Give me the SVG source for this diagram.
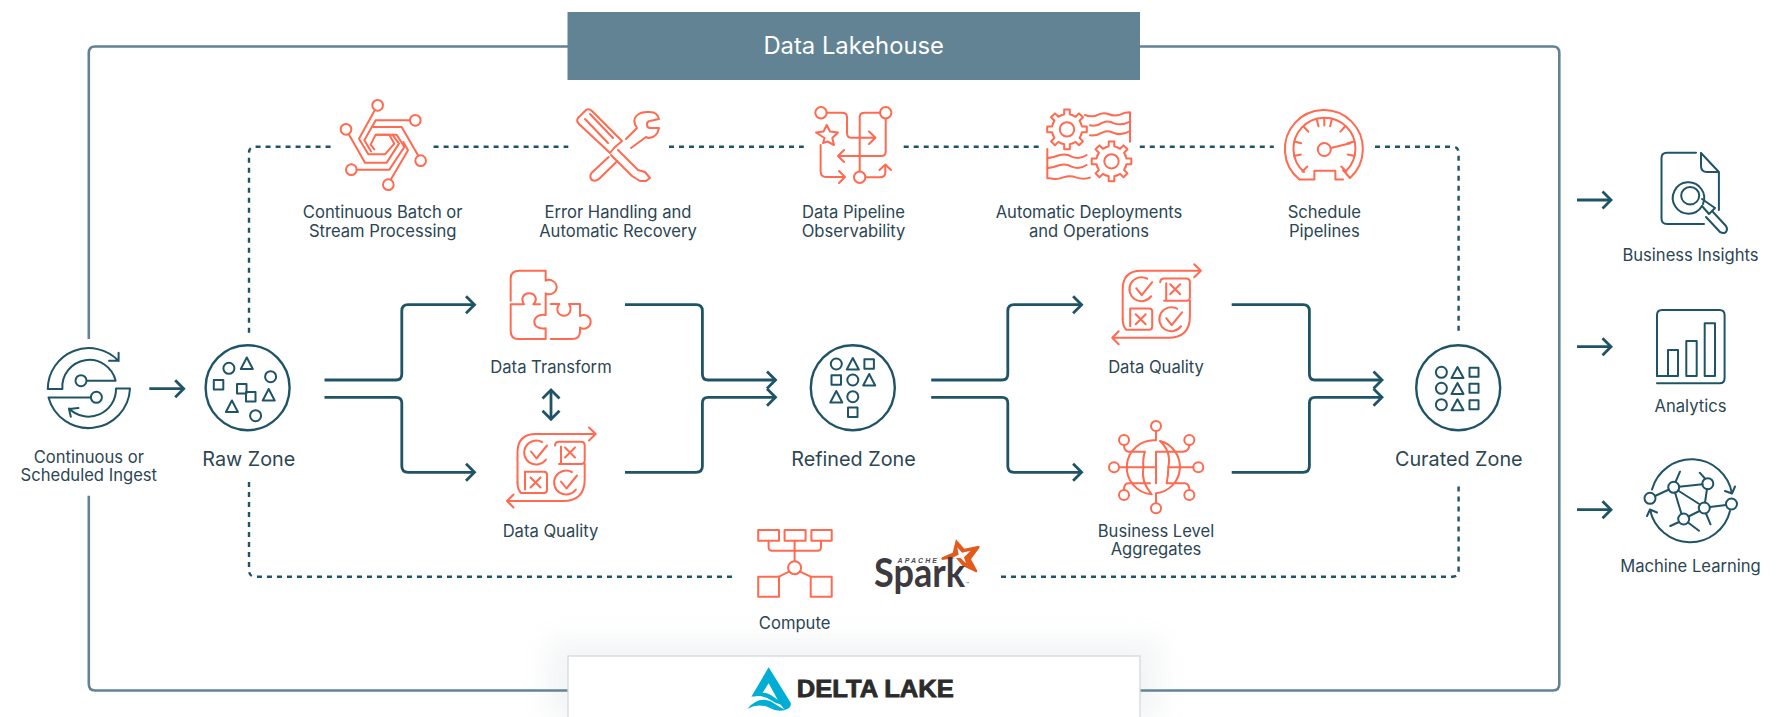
<svg xmlns="http://www.w3.org/2000/svg" xmlns:xlink="http://www.w3.org/1999/xlink" width="1785" height="717" viewBox="0 0 1785 717">
<style>
text{font-family:"Inter","Noto Sans","Liberation Sans",sans-serif;fill:#2c4653;text-anchor:middle}
.l{font-size:16.6px}
.z{font-size:19.8px;font-weight:400}
.c{fill:none;stroke:#ff6a50;stroke-width:2;stroke-linejoin:round;stroke-linecap:round}
.t{fill:none;stroke:#1f5466;stroke-width:2;stroke-linejoin:round;stroke-linecap:round}
.tt{fill:none;stroke:#1f5466;stroke-width:2.4;stroke-linejoin:round}
.flow{fill:none;stroke:#1f5466;stroke-width:2.8}
.dash{fill:none;stroke:#1f5466;stroke-width:2.4;stroke-dasharray:5 5}
</style>
<defs>
<marker id="ch" markerUnits="userSpaceOnUse" markerWidth="16" markerHeight="24" refX="13" refY="12" orient="auto-start-reverse" viewBox="0 0 16 24">
<path d="M4.5 3.5 L13 12 L4.5 20.5" fill="none" stroke="#1f5466" stroke-width="2.8"/>
</marker>
<filter id="soft" x="-10%" y="-50%" width="120%" height="200%"><feGaussianBlur stdDeviation="14"/></filter>
<g id="gear"><circle r="18"/>
<g id="tooth"><path d="M35 -14.5 L37.4 -7 L49.5 -7 L49.5 7 L37.4 7 L35 14.5"/></g>
<use href="#tooth" transform="rotate(45)"/><use href="#tooth" transform="rotate(90)"/><use href="#tooth" transform="rotate(135)"/><use href="#tooth" transform="rotate(180)"/><use href="#tooth" transform="rotate(225)"/><use href="#tooth" transform="rotate(270)"/><use href="#tooth" transform="rotate(315)"/>
</g>
<g id="dq">
<path class="c" d="M-33.5 15 V-15 Q-33.5 -33.5 -15 -33.5 H44.7 M38 -40 L44.7 -33.5 L38 -27"/>
<path class="c" d="M33.7 -3.5 V12 Q33.7 33.5 12 33.5 H-44 M-37.5 27 L-44 33.5 L-37.5 40"/>
<path class="c" d="M-33.5 15 Q-33.5 22 -30 25.5 H-7 Q-4 25.5 -4 22.5 V7 Q-4 4.2 -7 4.2 H-26 V22"/>
<path class="c" d="M-20.5 10 L-10.5 20 M-10.5 10 L-20.5 20"/>
<path class="c" d="M-5 -8 A12 12 0 1 1 -9 -25.5 M-20 -16 L-14.5 -9 L-4 -22"/>
<path class="c" d="M4 -22 Q4 -25.8 8 -25.8 H30 Q33.7 -25.8 33.7 -22 V-7 Q33.7 -3.5 30 -3.5 H8 M10 -21 V-4"/>
<path class="c" d="M14 -20 L24 -10 M24 -20 L14 -10"/>
<path class="c" d="M24.9 22 A12 12 0 1 1 20.9 4.5 M10 14 L15.5 21 L26 8"/>
</g>
</defs>
<rect width="1785" height="717" fill="#fff"/>

<g id="lakehouse-frame">
<path d="M88.8 339 V53 Q88.8 46.5 95 46.5 H1553 Q1559.3 46.5 1559.3 53 V684 Q1559.3 690.5 1553 690.5 H95 Q88.8 690.5 88.8 684 V495.7" fill="none" stroke="#618394" stroke-width="2.6"/>
</g>
<g id="data-lakehouse">
<rect x="567.5" y="12" width="572.5" height="68" fill="#618394"/>
<text x="853.7" y="54" style="font-size:23.8px;fill:#fff">Data Lakehouse</text>
</g>
<g id="delta-lake">
<rect x="548" y="640" width="612" height="80" fill="#8a9aa2" opacity=".1" filter="url(#soft)"/>
<rect x="568" y="656" width="572" height="70" fill="#fff" stroke="#d3dade" stroke-width="1.3"/>
<g transform="translate(740,660) scale(.3333)" fill="#00add4">
<path d="M86 22 L152 128 Q156 143 134 150 L118 128 L86 70 L64 104 L34 110 Z"/>
<path d="M22 146 Q56 108 92 124 Q112 138 136 150 Q110 156 90 144 Q58 128 22 146 Z"/>
<path d="M38 110 Q70 86 100 110 Q112 120 124 124 L130 136 Q108 132 92 120 Q70 104 38 110 Z"/>
</g>
<text x="875.3" y="697.3" textLength="157" lengthAdjust="spacingAndGlyphs" style="font-family:'Liberation Sans',sans-serif;font-weight:700;font-size:24px;fill:#2b2b2b;stroke:#2b2b2b;stroke-width:.8">DELTA LAKE</text>
</g>

<g id="connectors">
<g id="dashed">
<path class="dash" d="M249 332.7 V153 Q249 146.7 255 146.7 H333"/>
<path class="dash" d="M433.6 146.7 H568.3"/>
<path class="dash" d="M669 146.7 H803.8"/>
<path class="dash" d="M903.7 146.7 H1039"/>
<path class="dash" d="M1139.8 146.7 H1273.8"/>
<path class="dash" d="M1375 146.7 H1452 Q1458.6 146.7 1458.6 153 V332.7"/>
<path class="dash" d="M249 482 V570 Q249 576.7 255 576.7 H736.8"/>
<path class="dash" d="M1001 576.7 H1452 Q1458.6 576.7 1458.6 570 V484"/>
</g>
<g id="flows">
<path class="flow" marker-end="url(#ch)" d="M149.3 388.7 H183.7"/>
<path class="flow" marker-end="url(#ch)" d="M324.5 380 H396 Q401.8 380 401.8 374 V311 Q401.8 304.7 408 304.7 H474.5"/>
<path class="flow" marker-end="url(#ch)" d="M324.5 397.3 H396 Q401.8 397.3 401.8 403 V466 Q401.8 472.3 408 472.3 H474.5"/>
<path class="flow" marker-end="url(#ch)" d="M625 304.7 H696 Q702.4 304.7 702.4 311 V374 Q702.4 380 708 380 H775.5"/>
<path class="flow" marker-end="url(#ch)" d="M625 472.3 H696 Q702.4 472.3 702.4 466 V403 Q702.4 397.3 708 397.3 H775.5"/>
<path class="flow" marker-end="url(#ch)" d="M931.2 380 H1002 Q1007.8 380 1007.8 374 V311 Q1007.8 304.7 1014 304.7 H1081.6"/>
<path class="flow" marker-end="url(#ch)" d="M931.2 397.3 H1002 Q1007.8 397.3 1007.8 403 V466 Q1007.8 472.3 1014 472.3 H1081.6"/>
<path class="flow" marker-end="url(#ch)" d="M1231.7 304.7 H1303 Q1309.4 304.7 1309.4 311 V374 Q1309.4 380 1315 380 H1382"/>
<path class="flow" marker-end="url(#ch)" d="M1231.7 472.3 H1303 Q1309.4 472.3 1309.4 466 V403 Q1309.4 397.3 1315 397.3 H1382"/>
<path class="flow" marker-start="url(#ch)" marker-end="url(#ch)" d="M551 390 V419.3"/>
<path class="flow" marker-end="url(#ch)" d="M1577 200 H1611"/>
<path class="flow" marker-end="url(#ch)" d="M1577 346.7 H1611"/>
<path class="flow" marker-end="url(#ch)" d="M1577 509.7 H1611"/>
</g>
</g>

<g id="ingest">
<path class="t" d="M47.8 389 A41 41 0 0 1 118.6 361 M118.6 352.7 V360.7 H109 M62.4 389 A27 27 0 0 1 115.6 380.7 H87 M47.8 389 H62.4"/>
<circle class="t" cx="81" cy="380.7" r="5.5"/>
<path class="t" d="M130 388.5 A41.5 41.5 0 0 1 48.5 397.5 H91 M116 388.5 A27.5 27.5 0 0 1 69 408.5 M78.5 408 L69 409 L70.8 416.7 M116 388.5 H130"/>
<circle class="t" cx="96.4" cy="397.3" r="5.5"/>
<text class="l" x="88.8" y="462.7">Continuous or</text>
<text class="l" x="88.8" y="481">Scheduled Ingest</text>
</g>

<g id="raw-zone">
<ellipse class="tt" cx="247.6" cy="387.7" rx="42" ry="42.5"/>
<circle class="t" cx="228.9" cy="368.3" r="5.5"/><circle class="t" cx="270.6" cy="376.7" r="5.5"/><circle class="t" cx="255.6" cy="415.7" r="5.5"/>
<path class="t" d="M246.8 357.5 L252.8 369 H240.8 Z M268.7 389 L274.7 400.5 H262.7 Z M231.9 400.5 L237.9 412 H225.9 Z"/>
<rect class="t" x="213.8" y="380" width="9.5" height="9.5"/><rect class="t" x="237" y="384" width="9.5" height="9.5"/><rect class="t" x="246" y="392" width="9.5" height="9.5"/>
<text class="z" x="248.8" y="466">Raw Zone</text>
</g>

<g id="refined-zone">
<ellipse class="tt" cx="852.8" cy="387.7" rx="42" ry="42.5"/>
<circle class="t" cx="836.3" cy="364" r="5.5"/><circle class="t" cx="852.8" cy="380" r="5.5"/><circle class="t" cx="852.8" cy="396.7" r="5.5"/>
<path class="t" d="M852.8 358 L858.8 369.5 H846.8 Z M869.2 374 L875.2 385.5 H863.2 Z M836.3 391 L842.3 402.5 H830.3 Z"/>
<rect class="t" x="864.4" y="359.2" width="9.5" height="9.5"/><rect class="t" x="831.5" y="375.2" width="9.5" height="9.5"/><rect class="t" x="848" y="407.5" width="9.5" height="9.5"/>
<text class="z" x="853.5" y="466">Refined Zone</text>
</g>

<g id="curated-zone">
<ellipse class="tt" cx="1458.2" cy="387.7" rx="42" ry="42.5"/>
<circle class="t" cx="1441.4" cy="372.3" r="5.5"/><circle class="t" cx="1441.4" cy="388.3" r="5.5"/><circle class="t" cx="1441.4" cy="404.7" r="5.5"/>
<path class="t" d="M1457.5 367 L1463.5 378 H1451.5 Z M1457.5 383 L1463.5 394 H1451.5 Z M1457.5 399.3 L1463.5 410.3 H1451.5 Z"/>
<rect class="t" x="1469.5" y="367.8" width="9" height="9"/><rect class="t" x="1469.5" y="383.8" width="9" height="9"/><rect class="t" x="1469.5" y="400.2" width="9" height="9"/>
<text class="z" x="1458.8" y="466">Curated Zone</text>
</g>

<g id="continuous-batch">
<g transform="translate(335,92) scale(.3333)" style="fill:none;stroke:#ff6a50;stroke-width:6;stroke-linejoin:round;stroke-linecap:round">
<circle cx="128" cy="40" r="16"/><circle cx="241" cy="85" r="16"/><circle cx="33" cy="112" r="16"/><circle cx="257" cy="206" r="16"/><circle cx="49" cy="233" r="16"/><circle cx="160" cy="278" r="16"/>
<path d="M118 57 L72 140 L100 187 H150 L178 155 L163 128 H122 L107 158 L118 172"/>
<path d="M225 85 H122 L88 145 L108 178"/>
<path d="M250 191 L200 105 H115"/>
<path d="M41 126 L90 212 H155 L192 155 L172 128"/>
<path d="M65 233 H163 L208 165 L185 128 H125"/>
<path d="M168 262 L219 175 L205 150"/>
</g>
<text class="l" x="382.7" y="218.3">Continuous Batch or</text>
<text class="l" x="382.7" y="237">Stream Processing</text>
</g>

<g id="error-handling">
<path class="c" d="M586 110 Q589 108 592 111 L622 141 L614 148 L610 153 L579 124 Q576 121 578 118 Z M585 119 L608 143 M590 114 L613 138"/>
<path class="c" d="M618 150 L638 170 L645 172 L650 178 L646 181 L640 181 L632 176 L611 155"/>
<path class="c" d="M626 139 L637 128 C630 118 638 111 650 112 C655 112 658 115 659 119 L650 121 C646 121 646 128 650 128 L659 128 C658 134 654 138 648 138 L646 137 L631 148"/>
<path class="c" d="M608.6 157 L591.5 173 Q589 177 592 180 Q596 182 600 178 L617.4 161"/>
<text class="l" x="618" y="218.3">Error Handling and</text>
<text class="l" x="618" y="237">Automatic Recovery</text>
</g>

<g id="data-pipeline">
<circle class="c" cx="821" cy="112.7" r="5.7"/><circle class="c" cx="885.7" cy="112.7" r="5.7"/><circle class="c" cx="859.7" cy="177.3" r="5.7"/>
<path class="c" d="M826.7 112.7 H842 Q847 112.7 847 117 V133 Q847 137.7 851 137.7 H875 M869 131.5 L875.5 137.7 L869 144"/>
<path class="c" d="M885.7 118.5 V152 Q885.7 156 881 156 H838 M844 150 L838 156 L844 162"/>
<path class="c" d="M880 112.7 H865 Q859.7 112.7 859.7 117 V171.5"/>
<path class="c" d="M826.7 125 L830 131.5 L838 132.5 L832.3 138 L834 145 L827.5 141.5 L823 143 L824.5 138 L816 132.5 L823.5 131.5 Z"/>
<path class="c" d="M820.6 145 V171 Q820.6 177 826 177 H844.5 M839 171 L845 177 L839 183"/>
<path class="c" d="M865.5 177.3 H880 Q885.3 177.3 885.3 172 V165 M879.5 170 L885.3 164.5 L891 170"/>
<text class="l" x="853.5" y="218.3">Data Pipeline</text>
<text class="l" x="853.5" y="237">Observability</text>
</g>

<g id="automatic-deployments">
<g transform="translate(1040,100) scale(.3333)" style="fill:none;stroke:#ff6a50;stroke-width:6;stroke-linejoin:round;stroke-linecap:round">
<use href="#gear" transform="translate(81,88) scale(1.2)" style="stroke-width:5"/>
<use href="#gear" transform="translate(214.5,184) scale(1.2)" style="stroke-width:5"/>
<path d="M135 45 Q150 52 168 47 Q188 35 205 42 Q222 50 240 44 Q255 37 270 37 V125"/>
<path d="M150 76 Q170 80 188 68 Q205 60 222 70 Q245 78 270 65"/>
<path d="M150 106 Q170 108 188 97 Q205 90 222 99 Q245 108 270 93"/>
<path d="M22 147 V235 H30 Q50 240 70 232 Q90 225 108 232 Q130 240 150 233"/>
<path d="M22 175 Q40 172 60 165 Q78 160 95 170 Q118 180 140 165"/>
<path d="M22 205 Q40 202 60 195 Q78 190 95 200 Q118 210 140 195"/>
</g>
<text class="l" x="1089" y="218.3">Automatic Deployments</text>
<text class="l" x="1089" y="237">and Operations</text>
</g>

<g id="schedule-pipelines">
<path class="c" d="M1299.5 179.5 A39 39 0 1 1 1350 178 L1343 170"/>
<path class="c" d="M1299.5 179.5 H1314.4 V170.7 H1335.4 V179.5 H1343"/>
<path class="c" d="M1304 172 A31 31 0 1 1 1346 171"/>
<g transform="translate(1324.3,149.5)"><path class="c" id="tk" d="M0 -31 V-24"/>
<use href="#tk" transform="rotate(14)"/><use href="#tk" transform="rotate(-14)"/><use href="#tk" transform="rotate(42)"/><use href="#tk" transform="rotate(-42)"/><use href="#tk" transform="rotate(75)"/><use href="#tk" transform="rotate(-75)"/><use href="#tk" transform="rotate(102)"/><use href="#tk" transform="rotate(-102)"/><use href="#tk" transform="rotate(135)"/><use href="#tk" transform="rotate(-135)"/>
</g>
<circle class="c" cx="1324.3" cy="149.5" r="6.5"/>
<path class="c" d="M1330.8 148 L1350.3 143.3"/>
<text class="l" x="1324.3" y="218.3">Schedule</text>
<text class="l" x="1324.3" y="237">Pipelines</text>
</g>

<g id="data-transform">
<g transform="translate(500,260) scale(.3333)" style="fill:none;stroke:#ff6a50;stroke-width:6;stroke-linejoin:round;stroke-linecap:round">
<path d="M32 122 V55 Q32 32 58 32 H137 V62 C150 55 170 65 170 82 C170 98 150 108 137 100 V165 C115 160 102 175 103 187 C103 200 120 208 137 205 V237 H55 Q32 237 32 212 V133 H72 C60 115 72 100 87 100 C105 100 115 118 100 133 H120"/>
<path d="M152 132 H178 C165 150 175 167 192 167 C208 167 218 150 207 132 H240 V168 C255 160 272 170 272 185 C272 200 255 212 240 203 V215 Q240 237 215 237 H152"/>
</g>
<text class="l" x="551" y="373.3">Data Transform</text>
</g>

<g id="data-quality-a">
<use href="#dq" transform="translate(551,467.5)"/>
<text class="l" x="550.5" y="536.7">Data Quality</text>
</g>

<g id="data-quality-b">
<use href="#dq" transform="translate(1156.2,304.2)"/>
<text class="l" x="1156" y="373.3">Data Quality</text>
</g>

<g id="business-aggregates">
<g transform="translate(1100,415) scale(.3333)" style="fill:none;stroke:#ff6a50;stroke-width:6;stroke-linejoin:round;stroke-linecap:round">
<circle cx="168" cy="33" r="15"/><circle cx="72" cy="75" r="15"/><circle cx="268" cy="75" r="15"/><circle cx="42" cy="157" r="15"/><circle cx="295" cy="157" r="15"/><circle cx="72" cy="240" r="15"/><circle cx="268" cy="240" r="15"/><circle cx="168" cy="280" r="15"/>
<path d="M168 48 V76 A80 80 0 0 0 155 238 Q122 200 130 157 Q128 130 135 110 H85 Q72 108 72 90"/>
<path d="M168 265 V235 A80 80 0 0 0 180 78 Q215 110 205 157 Q205 180 200 205 H255 Q268 207 268 225"/>
<path d="M57 157 H168 M168 205 V110 H205 M205 157 H280 M205 110 H250 Q268 108 268 90 M72 225 Q72 205 85 205 H150"/>
</g>
<text class="l" x="1156" y="536.7">Business Level</text>
<text class="l" x="1156" y="555">Aggregates</text>
</g>

<g id="compute">
<rect class="c" x="758.2" y="530" width="20.8" height="10.7"/><rect class="c" x="784.6" y="530" width="21" height="10.7"/><rect class="c" x="811.4" y="530" width="20.3" height="10.7"/>
<rect class="c" x="758.2" y="576.7" width="20.8" height="20"/><rect class="c" x="810.7" y="576.7" width="21" height="20"/>
<circle class="c" cx="794.6" cy="567.7" r="6.5"/>
<path class="c" d="M768.6 540.7 V547 Q768.6 550.7 772 550.7 H817.5 Q821 550.7 821 547 V540.7 M794.6 540.7 V561 M789 571.7 L779 576.7 M800 571.7 L810.7 576.7"/>
<text class="l" x="794.6" y="628.7">Compute</text>
</g>

<g id="spark">
<g transform="translate(870,530) scale(.3333)">
<path fill="#e25a1c" fill-rule="evenodd" d="M258 28 L283 56 L326 47 Q331 48 328 54 L303 88 L322 122 Q322 128 316 126 L278 108 L258 84 L216 90 Q212 86 216 82 L248 68 Z M262 52 L266 74 L246 84 L272 84 L288 100 L282 82 L302 62 L276 68 Z"/>
</g>
<text x="874" y="587" textLength="91" lengthAdjust="spacingAndGlyphs" style="font-family:Lato,'Liberation Sans',sans-serif;font-weight:700;font-size:40px;fill:#3c3a3e;text-anchor:start">Spark</text>
<text x="897.5" y="563.3" textLength="39.5" style="font-size:7px;font-weight:600;font-style:italic;fill:#4a4a4e;text-anchor:start;font-family:'Liberation Sans',sans-serif">APACHE</text>
<text x="966" y="586" style="font-size:5px;fill:#3c3a3e;text-anchor:start">™</text>
</g>

<g id="business-insights">
<path class="t" d="M1696 152.7 H1667 Q1661.5 152.7 1661.5 158 V218.5 Q1661.5 224 1667 224 H1704"/>
<path class="t" d="M1701 153 V166 Q1701 172 1707 172 H1718.9 L1701 153 M1718.9 172 V210"/>
<path class="t" d="M1702 206 A15.7 15.7 0 1 1 1703 204"/>
<ellipse class="t" cx="1690.2" cy="195.7" rx="9" ry="8.7"/>
<path class="t" d="M1702 206 L1709 214 L1715 208 L1702 199 M1706 217 L1720 232 Q1724 234 1726 232 Q1728 229 1726 226 L1713 212"/>
<text class="l" x="1690.5" y="261">Business Insights</text>
</g>

<g id="analytics">
<path class="t" d="M1657 376 V315 Q1657 310 1662 310 H1719.5 Q1724.6 310 1724.6 315 V378 Q1724.6 383.3 1719.5 383.3 H1657"/>
<path class="t" d="M1657 376 H1678 V350 H1668 V376 M1686.3 376 V341 H1696.7 V376 H1686.3 M1704.7 376 V323.3 H1715 V376 H1704.7"/>
<text class="l" x="1690.5" y="412">Analytics</text>
</g>

<g id="machine-learning">
<circle class="t" cx="1650" cy="498.3" r="5.5"/><circle class="t" cx="1673.7" cy="487.3" r="5.5"/><circle class="t" cx="1707.8" cy="483.7" r="5.5"/><circle class="t" cx="1704.3" cy="508" r="5.5"/><circle class="t" cx="1731.5" cy="504" r="5.5"/><circle class="t" cx="1683.7" cy="519" r="5.5"/>
<path class="t" d="M1655 496 L1669 489.5 M1679 486.7 L1702.5 484.3 M1678 490.5 L1700 504.5 M1675 492.5 L1681.5 514 M1707 489 L1705 502.5 M1710 507 L1726 505 M1699.5 511 L1688.5 516.5 M1675.5 482 L1680 471.7 M1705 478.5 L1699.7 472.7 M1706 513.5 L1710.5 524.3 M1679 522 L1670.3 526 M1688 522.5 L1699 530.7"/>
<path class="t" d="M1652 489.5 A41 41 0 0 1 1732 493.5 M1725 491 L1732 493.5 L1735 486.5"/>
<path class="t" d="M1730 511 A41 41 0 0 1 1650 509.5 M1657 512.5 L1650 509.5 L1647 516"/>
<text class="l" x="1690.5" y="571.7">Machine Learning</text>
</g>
</svg>
